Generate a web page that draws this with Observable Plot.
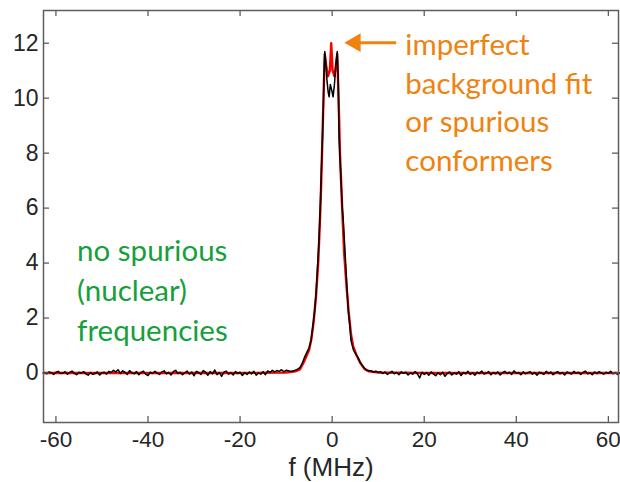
<!DOCTYPE html>
<html>
<head>
<meta charset="utf-8">
<script src="https://cdn.jsdelivr.net/npm/d3@7"></script>
<script src="https://cdn.jsdelivr.net/npm/@observablehq/plot@0.6"></script>
<style>
  html, body { margin: 0; padding: 0; background: #fff; }
  #chart svg { display: block; }
</style>
</head>
<body>
<div id="chart"></div>
<script>
// ---- data ----
const xTicks = [-60, -40, -20, 0, 20, 40, 60];
const yTicks = [0, 2, 4, 6, 8, 10, 12];

// baseline noise of the measured (black) trace, sampled every 0.5 MHz
const leftStart = -62.5;   // MHz, first sample of the left baseline
const rightStart = 8.5;    // MHz, first sample of the right baseline
const leftNoise = [
  0.02, -0.03, 0.04, 0.01, -0.05, 0.03, 0.06, -0.02, 0.00, 0.05,
  -0.04, 0.02, 0.07, -0.01, -0.06, 0.03, 0.00, 0.05, -0.03, -0.08,
  0.02, -0.05, -0.02, 0.04, -0.07, 0.01, 0.03, -0.04, 0.06, 0.02,
  0.10, 0.04, 0.12, -0.02, 0.08, 0.03, -0.05, 0.09, 0.01, -0.03,
  0.05, -0.06, 0.02, 0.07, -0.04, -0.09, 0.03, -0.02, 0.06, 0.00,
  -0.05, 0.04, 0.08, -0.03, 0.02, -0.07, 0.05, 0.10, -0.02, 0.03,
  -0.06, 0.01, 0.07, -0.04, 0.04, -0.10, 0.06, 0.02, -0.05, 0.09,
  0.03, -0.08, 0.05, -0.03, 0.11, -0.06, 0.02, -0.12, 0.04, 0.07,
  -0.04, 0.01, -0.07, 0.05, -0.02, 0.03, -0.09, 0.02, -0.05, 0.04,
  -0.03, 0.06, -0.08, 0.00, -0.04, 0.05, -0.06, 0.08, 0.02, 0.10,
  0.04, 0.09, 0.06, 0.12, 0.05, 0.10, 0.08, 0.06, 0.07
];
const rightNoise = [
  0.08, 0.03, 0.07, 0.02, 0.05, -0.02, 0.04, -0.05, 0.01, 0.06,
  -0.03, 0.02, -0.06, 0.04, -0.01, 0.03, -0.07, 0.00, -0.04, 0.05,
  -0.02, -0.18, 0.03, -0.05, 0.02, -0.08, 0.04, -0.03, -0.10, 0.01,
  -0.06, 0.03, -0.12, -0.02, 0.04, -0.07, 0.00, -0.04, 0.05, -0.09,
  0.02, -0.03, 0.06, -0.05, 0.01, -0.08, 0.03, -0.02, 0.07, -0.04,
  0.00, 0.05, -0.06, 0.02, -0.03, 0.04, -0.07, 0.01, 0.06, -0.02,
  0.03, -0.05, 0.08, -0.01, 0.02, -0.06, 0.04, -0.03, 0.01, 0.05,
  -0.04, 0.02, -0.08, 0.03, 0.00, -0.05, 0.06, -0.02, 0.04, -0.06,
  0.01, 0.05, -0.03, 0.02, -0.07, 0.04, 0.00, -0.04, 0.06, -0.01,
  0.03, -0.05, 0.02, 0.07, -0.03, 0.01, -0.06, 0.04, -0.02, 0.05,
  0.00, -0.04, 0.03, -0.01, 0.06, -0.03, 0.02, -0.05, 0.01
];

// central peak of the measured (black) trace
const peakF = [-8.0, -7.5, -7.0, -6.5, -6.0, -5.5, -5.0, -4.6, -4.2, -3.8, -3.5, -3.3, -3.1, -2.9, -2.7, -2.5, -2.3, -2.1, -1.9, -1.75, -1.6,
  -1.35, -1.1, -0.85, -0.65, -0.4, -0.1, 0.2, 0.5, 0.8, 1.1, 1.3, 1.5, 1.7, 1.9, 2.2, 2.4, 2.7, 3.1, 3.5, 3.8, 4.1, 4.6, 5.1, 5.6, 6.2, 6.9, 7.5, 8.0];
const peakS = [0.10, 0.14, 0.20, 0.35, 0.57, 0.75, 0.92, 1.18, 1.70, 2.27, 2.90, 3.48, 4.10, 4.70, 5.50, 6.50, 7.60, 8.60, 9.80, 11.0, 11.7,
  11.2, 10.6, 10.2, 10.05, 10.5, 10.3, 10.05, 10.5, 11.2, 11.7, 10.8, 8.6, 7.8, 7.15, 6.0, 5.6, 4.7, 3.48, 2.27, 1.8, 1.18, 0.85, 0.70, 0.57, 0.35, 0.20, 0.10, 0.08];

// fitted (red) curve
const fitF = [-62.7, -20, -10, -8, -7, -6, -5, -4.5, -4, -3.5, -3, -2.5, -2.1, -1.8, -1.6, -1.3, -0.9, -0.5, -0.2, 0.1, 0.5, 0.9, 1.1, 1.4, 1.7, 2.1, 2.6, 3.1, 3.6, 4.1, 4.6, 5.3, 6, 7, 8, 10, 20, 62.2];
const fitS = [0.0, 0.0, 0.02, 0.06, 0.13, 0.45, 0.85, 1.25, 1.9, 2.8, 4.1, 6.2, 8.6, 10.5, 11.6, 11.2, 10.8, 11.0, 12.0, 11.0, 10.8, 11.3, 11.6, 10.0, 8.0, 6.3, 4.4, 3.2, 2.2, 1.4, 0.95, 0.65, 0.4, 0.15, 0.06, 0.02, 0.0, 0.0];

const orangeText = "imperfect\nbackground fit\nor spurious\nconformers";
const greenText = "no spurious\n(nuclear)\nfrequencies";

// ---- build tables ----
const measured = [
  ...leftNoise.map((s, i) => ({f: leftStart + i * 0.5, s})),
  ...peakF.map((f, i) => ({f, s: peakS[i]})),
  ...rightNoise.map((s, i) => ({f: rightStart + i * 0.5, s}))
];
const fit = fitF.map((f, i) => ({f, s: fitS[i]}));

const W = 620, H = 482;
const mL = 43, mR = 2, mT = 10, mB = 60;
const plotW = W - mL - mR, plotH = H - mT - mB;
const tickLen = 6;

const orange = "#f0820f";
const green = "#16a03c";
const axisGray = "#5e5e5e";
const labelColor = "#262626";
const numFont = "'Liberation Sans', Arial, sans-serif";
const annFont = "Lato, 'Open Sans', sans-serif";
const tickStyle = {stroke: axisGray, strokeWidth: 1.3};

const chart = Plot.plot({
  width: W,
  height: H,
  marginLeft: mL,
  marginRight: mR,
  marginTop: mT,
  marginBottom: mB,
  style: {fontFamily: numFont, background: "#fff"},
  x: {domain: [-62.7, 62.2], label: null},
  y: {domain: [-1.8, 13.19], label: null},
  marks: [
    Plot.line(fit, {x: "f", y: "s", stroke: "#ff0000", strokeWidth: 2.4}),
    Plot.line(measured, {x: "f", y: "s", stroke: "#000", strokeWidth: 1.5}),
    // inward ticks on all four sides
    Plot.tickX(xTicks, {x: d => d, insetTop: plotH - tickLen, ...tickStyle}),
    Plot.tickX(xTicks, {x: d => d, insetBottom: plotH - tickLen, ...tickStyle}),
    Plot.tickY(yTicks, {y: d => d, insetRight: plotW - tickLen, ...tickStyle}),
    Plot.tickY(yTicks, {y: d => d, insetLeft: plotW - tickLen, ...tickStyle}),
    Plot.frame({stroke: axisGray, strokeWidth: 1.5}),
    Plot.axisX(xTicks, {anchor: "bottom", tickSize: 0, tickPadding: 9, fontSize: 22.5, color: labelColor, label: null, tickFormat: d => String(d)}),
    Plot.axisY(yTicks, {anchor: "left", tickSize: 0, tickPadding: 5, fontSize: 23, color: labelColor, label: null, tickFormat: d => String(d)}),
    Plot.text(["f (MHz)"], {frameAnchor: "bottom", dy: 45, fontSize: 26, fill: labelColor, lineAnchor: "middle"}),
    Plot.text([orangeText], {x: 15.9, y: 9.91, text: d => d, textAnchor: "start", lineAnchor: "middle", lineHeight: 1.31, fontSize: 29.5, fill: orange, fontFamily: annFont}),
    Plot.text([greenText], {x: -55.4, y: 3.1, text: d => d, textAnchor: "start", lineAnchor: "middle", lineHeight: 1.36, fontSize: 29.5, fill: green, fontFamily: annFont}),
    Plot.link([{a: 13.9, b: 5.0, y: 12.02}], {x1: "a", x2: "b", y1: "y", y2: "y", stroke: orange, strokeWidth: 3}),
    Plot.dot([{x: 5.0, y: 12.02}], {x: "x", y: "y", symbol: "triangle", r: 7, rotate: -90, fill: orange, stroke: null})
  ]
});
document.getElementById("chart").appendChild(chart);
</script>
</body>
</html>
